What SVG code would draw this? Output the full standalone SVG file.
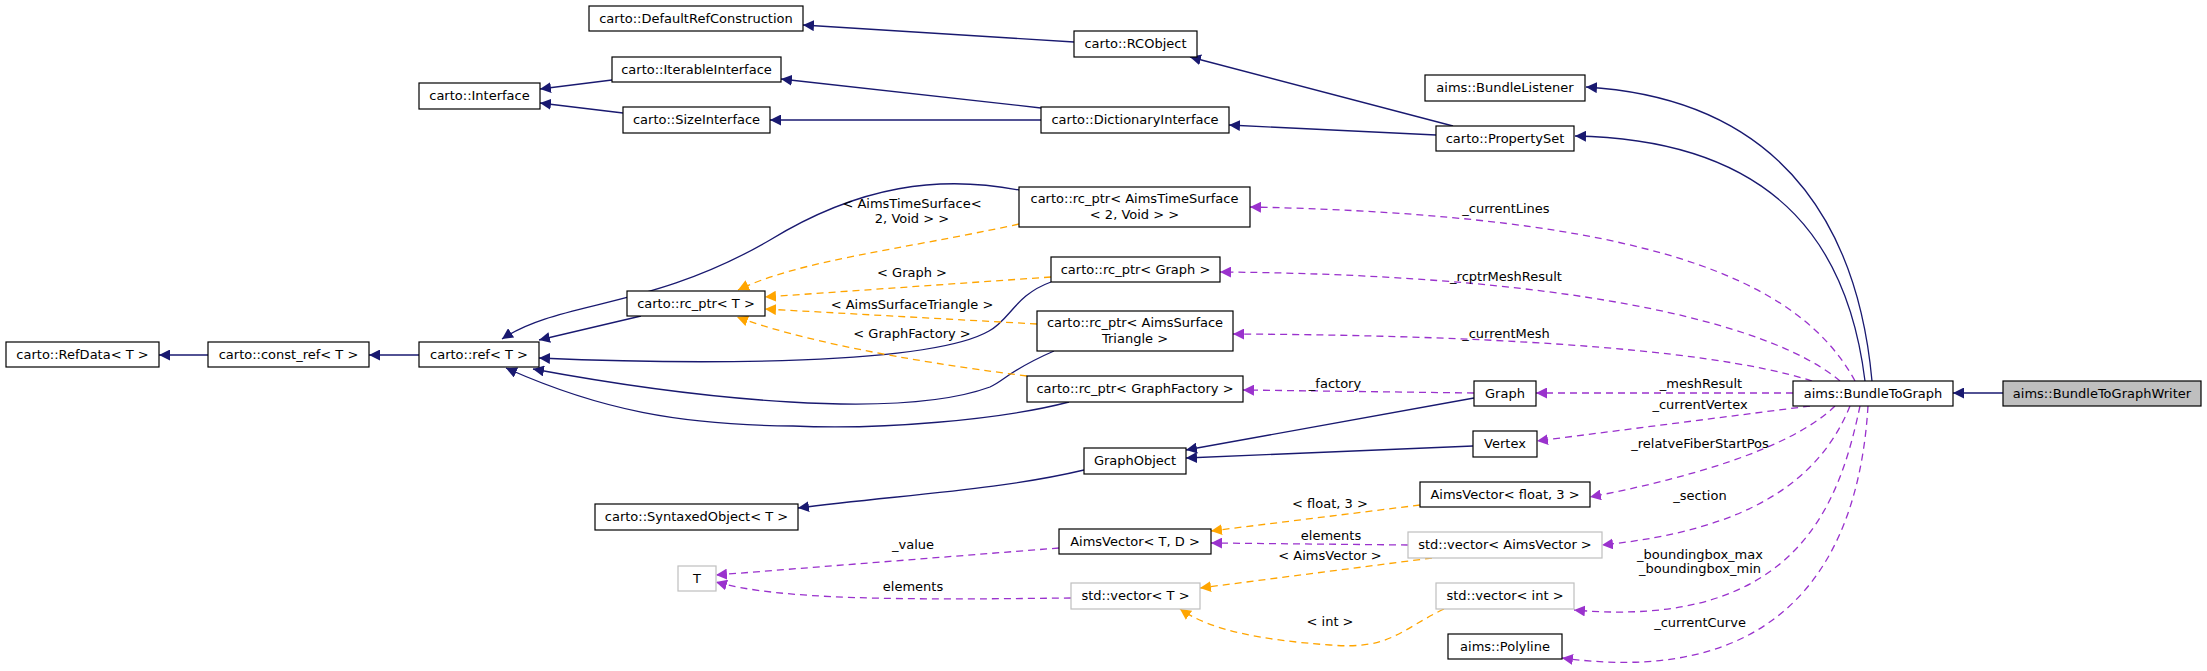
<svg xmlns="http://www.w3.org/2000/svg" width="2207" height="671" viewBox="0 0 2207 671">
<style>
.n rect{fill:#fff;stroke:#000;stroke-width:1.2}
.g rect{stroke:#bfbfbf}
.h rect{fill:#bfbfbf}
text{font-family:"DejaVu Sans","Liberation Sans",sans-serif;font-size:13px;fill:#000}
.t{text-anchor:middle}
.e path{fill:none}
.inh{stroke:#191970;stroke-width:1.3;marker-end:url(#an)}
.tpl{stroke:#FFA500;stroke-width:1.3;stroke-dasharray:7,5;marker-end:url(#ao)}
.mem{stroke:#9A32CD;stroke-width:1.3;stroke-dasharray:7,5;marker-end:url(#ap)}
</style>
<defs>
<marker id="an" viewBox="0 0 10 10" refX="10" refY="5" markerWidth="11" markerHeight="11" markerUnits="userSpaceOnUse" orient="auto"><path d="M0,0L10,5L0,10z" fill="#191970"/></marker>
<marker id="ao" viewBox="0 0 10 10" refX="10" refY="5" markerWidth="11" markerHeight="11" markerUnits="userSpaceOnUse" orient="auto"><path d="M0,0L10,5L0,10z" fill="#FFA500"/></marker>
<marker id="ap" viewBox="0 0 10 10" refX="10" refY="5" markerWidth="11" markerHeight="11" markerUnits="userSpaceOnUse" orient="auto"><path d="M0,0L10,5L0,10z" fill="#9A32CD"/></marker>
</defs>
<rect width="2207" height="671" fill="#fff"/>
<g id="edges" class="e">
<path class="inh" d="M1074,42L803,25"/>
<path class="inh" d="M612,80L540,89"/>
<path class="inh" d="M623,113L540,103"/>
<path class="inh" d="M1041,108L781,79"/>
<path class="inh" d="M1041,120L770,120"/>
<path class="inh" d="M1453,126L1190,57"/>
<path class="inh" d="M1436,135L1229,125"/>
<path class="inh" d="M1872,381C1860,250 1800,100 1586,87"/>
<path class="inh" d="M1865,381C1850,260 1790,140 1575,136"/>
<path class="inh" d="M208,355L159,355"/>
<path class="inh" d="M419,355L369,355"/>
<path class="inh" d="M641,316L539,340"/>
<path class="inh" d="M1019,190C940,175 860,185 770,240C650,310 560,300 502,339"/>
<path class="inh" d="M1051,282C1015,295 1010,320 989,331C930,365 700,365 539,358"/>
<path class="inh" d="M1054,351C1010,370 1005,380 990,387C900,420 700,400 533,369"/>
<path class="inh" d="M1069,402C1000,420 880,430 793,426C680,425 600,410 506,368"/>
<path class="inh" d="M1474,398L1186,450"/>
<path class="inh" d="M1473,446L1186,458"/>
<path class="inh" d="M1084,470C1000,490 900,495 798,508"/>
<path class="inh" d="M2003,393L1953,393"/>
<path class="tpl" d="M1019,224C900,250 800,260 738,290"/>
<path class="tpl" d="M1051,277L765,297"/>
<path class="tpl" d="M1037,324L765,309"/>
<path class="tpl" d="M1027,376C900,360 800,340 737,317"/>
<path class="tpl" d="M1420,505L1211,531"/>
<path class="tpl" d="M1432,558L1200,588"/>
<path class="tpl" d="M1444,609C1400,630 1390,650 1330,645C1260,640 1210,630 1180,609"/>
<path class="mem" d="M1855,381C1800,280 1650,215 1250,207"/>
<path class="mem" d="M1840,381C1780,330 1600,275 1220,272"/>
<path class="mem" d="M1812,381C1700,345 1450,335 1233,334"/>
<path class="mem" d="M1793,393L1536,393"/>
<path class="mem" d="M1474,393L1243,390"/>
<path class="mem" d="M1810,406L1537,441"/>
<path class="mem" d="M1835,406C1790,450 1680,480 1590,497"/>
<path class="mem" d="M1850,406C1820,480 1750,530 1602,545"/>
<path class="mem" d="M1860,406C1840,500 1800,630 1574,610"/>
<path class="mem" d="M1868,406C1860,540 1800,690 1562,658"/>
<path class="mem" d="M1059,548L716,575"/>
<path class="mem" d="M1071,598C900,600 780,600 716,582"/>
<path class="mem" d="M1408,545L1211,543"/>
<text class="t" x="912" y="208">&lt; AimsTimeSurface&lt;</text>
<text class="t" x="912" y="223">2, Void &gt; &gt;</text>
<text class="t" x="912" y="277">&lt; Graph &gt;</text>
<text class="t" x="912" y="309">&lt; AimsSurfaceTriangle &gt;</text>
<text class="t" x="912" y="338">&lt; GraphFactory &gt;</text>
<text class="t" x="1506" y="213">_currentLines</text>
<text class="t" x="1506" y="281">_rcptrMeshResult</text>
<text class="t" x="1506" y="338">_currentMesh</text>
<text class="t" x="1335" y="388">_factory</text>
<text class="t" x="1701" y="388">_meshResult</text>
<text class="t" x="1700" y="409">_currentVertex</text>
<text class="t" x="1700" y="448">_relatveFiberStartPos</text>
<text class="t" x="1700" y="500">_section</text>
<text class="t" x="1700" y="559">_boundingbox_max</text>
<text class="t" x="1700" y="573">_boundingbox_min</text>
<text class="t" x="1700" y="627">_currentCurve</text>
<text class="t" x="1330" y="508">&lt; float, 3 &gt;</text>
<text class="t" x="1331" y="540">elements</text>
<text class="t" x="1330" y="560">&lt; AimsVector &gt;</text>
<text class="t" x="1330" y="626">&lt; int &gt;</text>
<text class="t" x="913" y="549">_value</text>
<text class="t" x="913" y="591">elements</text>
</g>
<g id="DefaultRefConstruction" class="n"><rect x="589" y="6" width="214" height="25"/><text class="t" x="696" y="23">carto::DefaultRefConstruction</text></g>
<g id="RCObject" class="n"><rect x="1074" y="31" width="123" height="26"/><text class="t" x="1135.5" y="48">carto::RCObject</text></g>
<g id="IterableInterface" class="n"><rect x="612" y="57" width="169" height="25"/><text class="t" x="696.5" y="74">carto::IterableInterface</text></g>
<g id="Interface" class="n"><rect x="419" y="83" width="121" height="26"/><text class="t" x="479.5" y="100">carto::Interface</text></g>
<g id="SizeInterface" class="n"><rect x="623" y="107" width="147" height="26"/><text class="t" x="696.5" y="124">carto::SizeInterface</text></g>
<g id="DictionaryInterface" class="n"><rect x="1041" y="107" width="188" height="26"/><text class="t" x="1135" y="124">carto::DictionaryInterface</text></g>
<g id="BundleListener" class="n"><rect x="1425" y="75" width="160" height="26"/><text class="t" x="1505" y="92">aims::BundleListener</text></g>
<g id="PropertySet" class="n"><rect x="1436" y="126" width="138" height="25"/><text class="t" x="1505" y="143">carto::PropertySet</text></g>
<g id="rcptrTimeSurface" class="n"><rect x="1019" y="187" width="231" height="40"/><text class="t" x="1134.5" y="203">carto::rc_ptr&lt; AimsTimeSurface</text><text class="t" x="1134.5" y="219">&lt; 2, Void &gt; &gt;</text></g>
<g id="rcptrGraph" class="n"><rect x="1051" y="257" width="169" height="25"/><text class="t" x="1135.5" y="274">carto::rc_ptr&lt; Graph &gt;</text></g>
<g id="rcptrT" class="n"><rect x="627" y="291" width="138" height="25"/><text class="t" x="696" y="308">carto::rc_ptr&lt; T &gt;</text></g>
<g id="rcptrSurface" class="n"><rect x="1037" y="311" width="196" height="40"/><text class="t" x="1135" y="327">carto::rc_ptr&lt; AimsSurface</text><text class="t" x="1135" y="343">Triangle &gt;</text></g>
<g id="RefData" class="n"><rect x="6" y="342" width="153" height="25"/><text class="t" x="82.5" y="359">carto::RefData&lt; T &gt;</text></g>
<g id="constref" class="n"><rect x="208" y="342" width="161" height="25"/><text class="t" x="288.5" y="359">carto::const_ref&lt; T &gt;</text></g>
<g id="ref" class="n"><rect x="419" y="342" width="120" height="25"/><text class="t" x="479" y="359">carto::ref&lt; T &gt;</text></g>
<g id="rcptrGraphFactory" class="n"><rect x="1027" y="376" width="216" height="26"/><text class="t" x="1135" y="393">carto::rc_ptr&lt; GraphFactory &gt;</text></g>
<g id="Graph" class="n"><rect x="1474" y="381" width="62" height="25"/><text class="t" x="1505" y="398">Graph</text></g>
<g id="BundleToGraph" class="n"><rect x="1793" y="381" width="160" height="25"/><text class="t" x="1873" y="398">aims::BundleToGraph</text></g>
<g id="BundleToGraphWriter" class="n h"><rect x="2003" y="381" width="198" height="25"/><text class="t" x="2102" y="398">aims::BundleToGraphWriter</text></g>
<g id="Vertex" class="n"><rect x="1473" y="431" width="64" height="26"/><text class="t" x="1505" y="448">Vertex</text></g>
<g id="GraphObject" class="n"><rect x="1084" y="448" width="102" height="26"/><text class="t" x="1135" y="465">GraphObject</text></g>
<g id="AimsVectorFloat3" class="n"><rect x="1420" y="482" width="170" height="25"/><text class="t" x="1505" y="499">AimsVector&lt; float, 3 &gt;</text></g>
<g id="SyntaxedObject" class="n"><rect x="595" y="504" width="203" height="26"/><text class="t" x="696.5" y="521">carto::SyntaxedObject&lt; T &gt;</text></g>
<g id="AimsVectorTD" class="n"><rect x="1059" y="529" width="152" height="25"/><text class="t" x="1135" y="546">AimsVector&lt; T, D &gt;</text></g>
<g id="vectorAimsVector" class="n g"><rect x="1408" y="532" width="194" height="26"/><text class="t" x="1505" y="549">std::vector&lt; AimsVector &gt;</text></g>
<g id="T" class="n g"><rect x="678" y="566" width="38" height="25"/><text class="t" x="697" y="583">T</text></g>
<g id="vectorT" class="n g"><rect x="1071" y="583" width="129" height="26"/><text class="t" x="1135.5" y="600">std::vector&lt; T &gt;</text></g>
<g id="vectorInt" class="n g"><rect x="1436" y="583" width="138" height="26"/><text class="t" x="1505" y="600">std::vector&lt; int &gt;</text></g>
<g id="Polyline" class="n"><rect x="1448" y="634" width="114" height="25"/><text class="t" x="1505" y="651">aims::Polyline</text></g>
</svg>
